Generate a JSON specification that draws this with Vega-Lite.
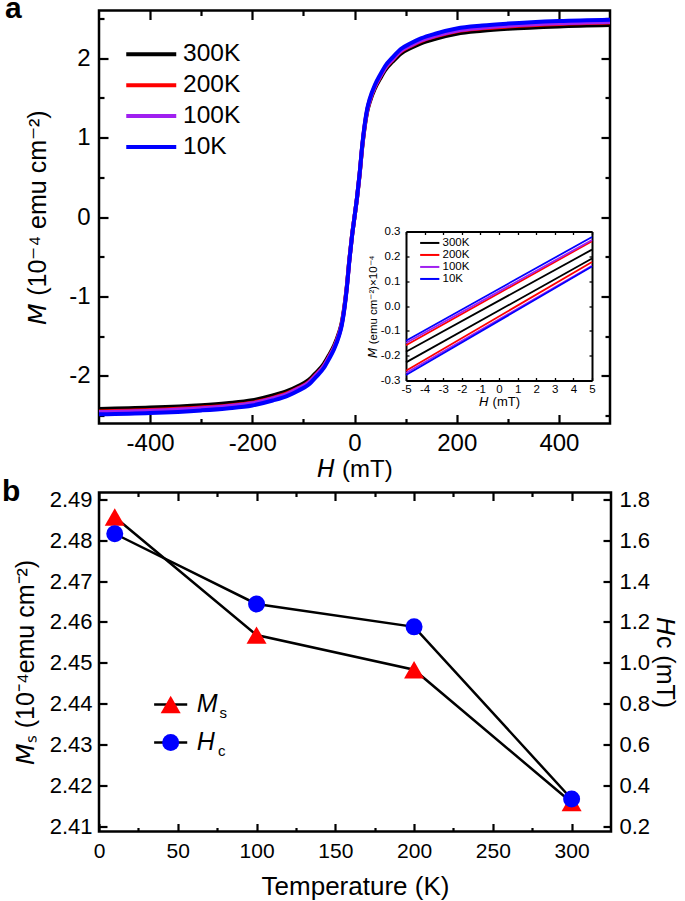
{
  "$schema": "https://vega.github.io/schema/vega-lite/v6.json",
  "padding": {"left": 0, "top": -7.5, "right": 6, "bottom": 0},
  "spacing": -8,
  "config": {
    "font": "Liberation Sans",
    "view": {"stroke": "#000000", "strokeWidth": 2.5},
    "axis": {"grid": false, "domain": false, "labelColor": "#000000", "titleColor": "#000000", "tickColor": "#000000", "labelFont": "Liberation Sans", "titleFont": "Liberation Sans", "titleFontWeight": "normal", "labelFlush": false, "labelOverlap": false, "labelBound": false, "tickWidth": 2.2, "labelFontSize": 22, "titleFontSize": 23},
    "legend": {"labelFont": "Liberation Sans", "labelColor": "#000000"},
    "title": {"color": "#000000"},
    "text": {"font": "Liberation Sans", "color": "#000000"}
  },
  "datasets": {
    "loop": [
      {"T":"300K","H":-500,"M":-2.417},{"T":"300K","H":-400,"M":-2.400},{"T":"300K","H":-300,"M":-2.369},{"T":"300K","H":-250,"M":-2.344},{"T":"300K","H":-200,"M":-2.308},{"T":"300K","H":-160,"M":-2.248},{"T":"300K","H":-130,"M":-2.187},{"T":"300K","H":-110,"M":-2.127},{"T":"300K","H":-90,"M":-2.054},{"T":"300K","H":-75,"M":-1.958},{"T":"300K","H":-60,"M":-1.849},{"T":"300K","H":-50,"M":-1.740},{"T":"300K","H":-40,"M":-1.619},{"T":"300K","H":-30,"M":-1.450},{"T":"300K","H":-25,"M":-1.329},{"T":"300K","H":-20,"M":-1.136},{"T":"300K","H":-15,"M":-0.870},{"T":"300K","H":-10,"M":-0.532},{"T":"300K","H":-5,"M":-0.242},{"T":"300K","H":0,"M":0},{"T":"300K","H":5,"M":0.242},{"T":"300K","H":10,"M":0.532},{"T":"300K","H":15,"M":0.870},{"T":"300K","H":20,"M":1.136},{"T":"300K","H":25,"M":1.329},{"T":"300K","H":30,"M":1.450},{"T":"300K","H":40,"M":1.619},{"T":"300K","H":50,"M":1.740},{"T":"300K","H":60,"M":1.849},{"T":"300K","H":75,"M":1.958},{"T":"300K","H":90,"M":2.054},{"T":"300K","H":110,"M":2.127},{"T":"300K","H":130,"M":2.187},{"T":"300K","H":160,"M":2.248},{"T":"300K","H":200,"M":2.308},{"T":"300K","H":250,"M":2.344},{"T":"300K","H":300,"M":2.369},{"T":"300K","H":400,"M":2.400},{"T":"300K","H":500,"M":2.417},
      {"T":"200K","H":-500,"M":-2.448},{"T":"200K","H":-400,"M":-2.431},{"T":"200K","H":-300,"M":-2.399},{"T":"200K","H":-250,"M":-2.375},{"T":"200K","H":-200,"M":-2.338},{"T":"200K","H":-160,"M":-2.277},{"T":"200K","H":-130,"M":-2.215},{"T":"200K","H":-110,"M":-2.154},{"T":"200K","H":-90,"M":-2.081},{"T":"200K","H":-75,"M":-1.983},{"T":"200K","H":-60,"M":-1.873},{"T":"200K","H":-50,"M":-1.763},{"T":"200K","H":-40,"M":-1.640},{"T":"200K","H":-30,"M":-1.469},{"T":"200K","H":-25,"M":-1.346},{"T":"200K","H":-20,"M":-1.151},{"T":"200K","H":-15,"M":-0.881},{"T":"200K","H":-10,"M":-0.539},{"T":"200K","H":-5,"M":-0.245},{"T":"200K","H":0,"M":0},{"T":"200K","H":5,"M":0.245},{"T":"200K","H":10,"M":0.539},{"T":"200K","H":15,"M":0.881},{"T":"200K","H":20,"M":1.151},{"T":"200K","H":25,"M":1.346},{"T":"200K","H":30,"M":1.469},{"T":"200K","H":40,"M":1.640},{"T":"200K","H":50,"M":1.763},{"T":"200K","H":60,"M":1.873},{"T":"200K","H":75,"M":1.983},{"T":"200K","H":90,"M":2.081},{"T":"200K","H":110,"M":2.154},{"T":"200K","H":130,"M":2.215},{"T":"200K","H":160,"M":2.277},{"T":"200K","H":200,"M":2.338},{"T":"200K","H":250,"M":2.375},{"T":"200K","H":300,"M":2.399},{"T":"200K","H":400,"M":2.431},{"T":"200K","H":500,"M":2.448},
      {"T":"100K","H":-500,"M":-2.456},{"T":"100K","H":-400,"M":-2.439},{"T":"100K","H":-300,"M":-2.407},{"T":"100K","H":-250,"M":-2.382},{"T":"100K","H":-200,"M":-2.345},{"T":"100K","H":-160,"M":-2.284},{"T":"100K","H":-130,"M":-2.223},{"T":"100K","H":-110,"M":-2.161},{"T":"100K","H":-90,"M":-2.088},{"T":"100K","H":-75,"M":-1.989},{"T":"100K","H":-60,"M":-1.879},{"T":"100K","H":-50,"M":-1.768},{"T":"100K","H":-40,"M":-1.646},{"T":"100K","H":-30,"M":-1.474},{"T":"100K","H":-25,"M":-1.351},{"T":"100K","H":-20,"M":-1.154},{"T":"100K","H":-15,"M":-0.884},{"T":"100K","H":-10,"M":-0.540},{"T":"100K","H":-5,"M":-0.246},{"T":"100K","H":0,"M":0},{"T":"100K","H":5,"M":0.246},{"T":"100K","H":10,"M":0.540},{"T":"100K","H":15,"M":0.884},{"T":"100K","H":20,"M":1.154},{"T":"100K","H":25,"M":1.351},{"T":"100K","H":30,"M":1.474},{"T":"100K","H":40,"M":1.646},{"T":"100K","H":50,"M":1.768},{"T":"100K","H":60,"M":1.879},{"T":"100K","H":75,"M":1.989},{"T":"100K","H":90,"M":2.088},{"T":"100K","H":110,"M":2.161},{"T":"100K","H":130,"M":2.223},{"T":"100K","H":160,"M":2.284},{"T":"100K","H":200,"M":2.345},{"T":"100K","H":250,"M":2.382},{"T":"100K","H":300,"M":2.407},{"T":"100K","H":400,"M":2.439},{"T":"100K","H":500,"M":2.456},
      {"T":"10K","H":-500,"M":-2.485},{"T":"10K","H":-400,"M":-2.468},{"T":"10K","H":-300,"M":-2.435},{"T":"10K","H":-250,"M":-2.410},{"T":"10K","H":-200,"M":-2.373},{"T":"10K","H":-160,"M":-2.311},{"T":"10K","H":-130,"M":-2.249},{"T":"10K","H":-110,"M":-2.187},{"T":"10K","H":-90,"M":-2.112},{"T":"10K","H":-75,"M":-2.013},{"T":"10K","H":-60,"M":-1.901},{"T":"10K","H":-50,"M":-1.789},{"T":"10K","H":-40,"M":-1.665},{"T":"10K","H":-30,"M":-1.491},{"T":"10K","H":-25,"M":-1.367},{"T":"10K","H":-20,"M":-1.168},{"T":"10K","H":-15,"M":-0.895},{"T":"10K","H":-10,"M":-0.547},{"T":"10K","H":-5,"M":-0.249},{"T":"10K","H":0,"M":0},{"T":"10K","H":5,"M":0.249},{"T":"10K","H":10,"M":0.547},{"T":"10K","H":15,"M":0.895},{"T":"10K","H":20,"M":1.168},{"T":"10K","H":25,"M":1.367},{"T":"10K","H":30,"M":1.491},{"T":"10K","H":40,"M":1.665},{"T":"10K","H":50,"M":1.789},{"T":"10K","H":60,"M":1.901},{"T":"10K","H":75,"M":2.013},{"T":"10K","H":90,"M":2.112},{"T":"10K","H":110,"M":2.187},{"T":"10K","H":130,"M":2.249},{"T":"10K","H":160,"M":2.311},{"T":"10K","H":200,"M":2.373},{"T":"10K","H":250,"M":2.410},{"T":"10K","H":300,"M":2.435},{"T":"10K","H":400,"M":2.468},{"T":"10K","H":500,"M":2.485}
    ],
    "inset": [
      {"T":"300K","br":"up","H":-5,"M":-0.184},{"T":"300K","br":"up","H":5,"M":0.227},
      {"T":"300K","br":"lo","H":-5,"M":-0.227},{"T":"300K","br":"lo","H":5,"M":0.191},
      {"T":"200K","br":"up","H":-5,"M":-0.158},{"T":"200K","br":"up","H":5,"M":0.261},
      {"T":"200K","br":"lo","H":-5,"M":-0.261},{"T":"200K","br":"lo","H":5,"M":0.177},
      {"T":"100K","br":"up","H":-5,"M":-0.149},{"T":"100K","br":"up","H":5,"M":0.266},
      {"T":"100K","br":"lo","H":-5,"M":-0.270},{"T":"100K","br":"lo","H":5,"M":0.162},
      {"T":"10K","br":"up","H":-5,"M":-0.140},{"T":"10K","br":"up","H":5,"M":0.278},
      {"T":"10K","br":"lo","H":-5,"M":-0.278},{"T":"10K","br":"lo","H":5,"M":0.159}
    ],
    "temp": [
      {"T":10,"Ms":2.4857,"Hc":1.632},
      {"T":100,"Ms":2.4568,"Hc":1.288},
      {"T":200,"Ms":2.4483,"Hc":1.176},
      {"T":300,"Ms":2.4158,"Hc":0.333}
    ]
  },
  "vconcat": [
    {
      "width": 511,
      "height": 413,
      "title": {"text": "a", "orient": "top", "anchor": "start", "frame": "group", "font": "Liberation Sans", "fontSize": 30, "fontWeight": "bold", "baseline": "alphabetic", "offset": 0, "dx": -94, "dy": 41.5},
      "layer": [
        {
          "data": {"name": "loop"},
          "layer": [
            {
              "mark": {"type": "line", "strokeWidth": 4, "interpolate": "monotone"},
              "encoding": {
                "x": {"field": "H", "type": "quantitative", "scale": {"domain": [-500, 500], "nice": false, "zero": false},
                  "axis": {"orient": "bottom", "values": [-400,-300,-200,-100,0,100,200,300,400], "labelExpr": "datum.value % 200 === 0 ? '' + datum.value : ''", "tickSize": {"condition": {"test": "datum.value % 200 === 0", "value": -9}, "value": -5}, "labelFontSize": 24, "labelPadding": 16.5, "title": "\uD835\uDE0F (mT)", "titleFontSize": 24, "titlePadding": -1.5}},
                "y": {"field": "M", "type": "quantitative", "scale": {"domain": [-2.6, 2.6], "nice": false, "zero": false},
                  "axis": {"orient": "left", "values": [-2.5,-2,-1.5,-1,-0.5,0,0.5,1,1.5,2,2.5], "labelExpr": "datum.value % 1 === 0 ? '' + datum.value : ''", "tickSize": {"condition": {"test": "datum.value % 1 === 0", "value": -9}, "value": -5}, "labelFontSize": 24, "labelPadding": 18, "title": "\uD835\uDE14 (10\u207B\u2074 emu cm\u207B\u00B2)", "titleFontSize": 25, "titlePadding": 18}},
                "color": {"field": "T", "type": "nominal", "scale": {"domain": ["300K","200K","100K","10K"], "range": ["#000000","#FF0000","#A020F0","#0000FF"]},
                  "legend": {"orient": "none", "legendX": 40, "legendY": 31.5, "title": null, "symbolType": "M -2.5 0 H 2.5", "symbolSize": 400, "symbolStrokeWidth": 4, "labelFontSize": 24.5, "rowPadding": 5.9, "labelOffset": 19.5, "padding": 0}}
              }
            },
            {
              "mark": {"type": "line", "opacity": 0},
              "encoding": {
                "x": {"field": "H", "type": "quantitative", "axis": {"orient": "top", "values": [-400,-300,-200,-100,0,100,200,300,400], "labels": false, "tickSize": {"condition": {"test": "datum.value % 200 === 0", "value": -9}, "value": -5}, "title": null}},
                "y": {"field": "M", "type": "quantitative", "axis": {"orient": "right", "values": [-2.5,-2,-1.5,-1,-0.5,0,0.5,1,1.5,2,2.5], "labels": false, "tickSize": {"condition": {"test": "datum.value % 1 === 0", "value": -9}, "value": -5}, "title": null}},
                "detail": {"field": "T"}
              }
            }
          ],
          "resolve": {"axis": {"x": "independent", "y": "independent"}}
        },
        {
          "data": {"name": "inset"},
          "layer": [
            {
              "mark": {"type": "line", "strokeWidth": 1.8},
              "encoding": {
                "x": {"field": "H", "type": "quantitative", "scale": {"domain": [-5, 5], "range": [307, 493], "nice": false, "zero": false},
                  "axis": {"orient": "bottom", "offset": -43, "values": [-5,-4,-3,-2,-1,0,1,2,3,4,5], "labelExpr": "'' + datum.value", "domain": true, "domainColor": "#000000", "domainWidth": 2, "tickSize": -3, "tickWidth": 1.3, "labelFontSize": 11.5, "labelPadding": 6, "title": "\uD835\uDE0F (mT)", "titleFontSize": 13, "titlePadding": 0}},
                "y": {"field": "M", "type": "quantitative", "scale": {"domain": [-0.3, 0.3], "range": [370, 221], "nice": false, "zero": false},
                  "axis": {"orient": "left", "offset": -307, "values": [-0.3,-0.2,-0.1,0,0.1,0.2,0.3], "labelExpr": "replace(format(datum.value, '.1f'), '\u2212', '-')", "domain": true, "domainColor": "#000000", "domainWidth": 2, "tickSize": -3, "tickWidth": 1.3, "labelFontSize": 11.5, "labelPadding": 9, "title": "\uD835\uDE14 (emu cm\u207B\u00B2)\u00D710\u207B\u2074", "titleFontSize": 11.5, "titlePadding": 2}},
                "color": {"field": "T", "type": "nominal", "scale": {"domain": ["300K","200K","100K","10K"], "range": ["#000000","#FF0000","#A020F0","#0000FF"]},
                  "legend": {"orient": "none", "legendX": 325, "legendY": 226.7, "title": null, "symbolType": "M -2.4 0 H 2.4", "symbolSize": 64, "symbolStrokeWidth": 2, "labelFontSize": 11.5, "rowPadding": -1, "labelOffset": 7, "padding": 0}},
                "detail": {"field": "br"}
              }
            },
            {
              "mark": {"type": "line", "opacity": 0},
              "encoding": {
                "x": {"field": "H", "type": "quantitative", "axis": {"orient": "top", "offset": -221, "values": [-5,-4,-3,-2,-1,0,1,2,3,4,5], "labels": false, "domain": true, "domainColor": "#000000", "domainWidth": 2, "tickSize": -3, "tickWidth": 1.3, "title": null}},
                "y": {"field": "M", "type": "quantitative", "axis": {"orient": "right", "offset": -18, "values": [-0.3,-0.2,-0.1,0,0.1,0.2,0.3], "labels": false, "domain": true, "domainColor": "#000000", "domainWidth": 2, "tickSize": -3, "tickWidth": 1.3, "title": null}},
                "detail": {"field": "br"}
              }
            }
          ],
          "resolve": {"axis": {"x": "independent", "y": "independent"}}
        }
      ],
      "resolve": {"scale": {"x": "independent", "y": "independent", "color": "independent"}}
    },
    {
      "width": 512,
      "height": 339,
      "title": {"text": "b", "orient": "top", "anchor": "start", "frame": "group", "font": "Liberation Sans", "fontSize": 30, "fontWeight": "bold", "baseline": "alphabetic", "offset": 0, "dx": -97, "dy": 43},
      "data": {"name": "temp"},
      "layer": [
        {
          "layer": [
            {
              "mark": {"type": "line", "color": "#000000", "strokeWidth": 2.5},
              "encoding": {
                "x": {"field": "T", "type": "quantitative", "scale": {"domain": [0, 325], "nice": false, "zero": false},
                  "axis": {"orient": "bottom", "values": [0,25,50,75,100,125,150,175,200,225,250,275,300], "labelExpr": "datum.value % 50 === 0 ? '' + datum.value : ''", "tickSize": {"condition": {"test": "datum.value % 50 === 0", "value": -8}, "value": -4}, "labelFontSize": 21, "labelPadding": 17, "title": "Temperature (K)", "titleFontSize": 26, "titlePadding": 8}},
                "y": {"field": "Ms", "type": "quantitative", "scale": {"domain": [2.4087, 2.4917], "nice": false, "zero": false},
                  "axis": {"orient": "left", "values": [2.41,2.415,2.42,2.425,2.43,2.435,2.44,2.445,2.45,2.455,2.46,2.465,2.47,2.475,2.48,2.485,2.49], "labelExpr": "round(datum.value * 1000) % 10 === 0 ? format(datum.value, '.2f') : ''", "tickSize": {"condition": {"test": "round(datum.value * 1000) % 10 === 0", "value": -8}, "value": -4}, "labelFontSize": 22, "labelPadding": 15, "title": "\uD835\uDE14\u209B (10\u207B\u2074emu cm\u207B\u00B2)", "titleFontSize": 25, "titlePadding": 11}}
              }
            },
            {
              "mark": {"type": "point", "shape": "triangle-up", "filled": true, "color": "#FF0000", "size": 400, "opacity": 1},
              "encoding": {
                "x": {"field": "T", "type": "quantitative", "axis": {"orient": "top", "values": [0,25,50,75,100,125,150,175,200,225,250,275,300], "labels": false, "tickSize": {"condition": {"test": "datum.value % 50 === 0", "value": -8}, "value": -4}, "title": null}},
                "y": {"field": "Ms", "type": "quantitative"}
              }
            }
          ],
          "resolve": {"axis": {"x": "independent"}}
        },
        {
          "layer": [
            {
              "mark": {"type": "line", "color": "#000000", "strokeWidth": 2.5},
              "encoding": {
                "x": {"field": "T", "type": "quantitative", "axis": null},
                "y": {"field": "Hc", "type": "quantitative", "scale": {"domain": [0.174, 1.834], "nice": false, "zero": false},
                  "axis": {"orient": "right", "values": [0.2,0.3,0.4,0.5,0.6,0.7,0.8,0.9,1.0,1.1,1.2,1.3,1.4,1.5,1.6,1.7,1.8], "labelExpr": "round(datum.value * 10) % 2 === 0 ? format(datum.value, '.1f') : ''", "tickSize": {"condition": {"test": "round(datum.value * 10) % 2 === 0", "value": -8}, "value": -4}, "labelFontSize": 22, "labelPadding": 16, "title": "\uD835\uDE0Fc (mT)", "titleFontSize": 25, "titlePadding": 2}}
              }
            },
            {
              "mark": {"type": "point", "shape": "circle", "filled": true, "color": "#0000FF", "size": 289, "opacity": 1},
              "encoding": {
                "x": {"field": "T", "type": "quantitative", "axis": null},
                "y": {"field": "Hc", "type": "quantitative"}
              }
            }
          ]
        },
        {
          "data": {"values": [{}]},
          "layer": [
            {
              "mark": {"type": "rule", "color": "#000000", "strokeWidth": 2.5},
              "encoding": {"x": {"datum": 35, "type": "quantitative", "axis": null}, "x2": {"datum": 56}, "y": {"datum": 2.4398, "type": "quantitative", "scale": {"domain": [2.4087, 2.4917], "nice": false, "zero": false}, "axis": null}}
            },
            {
              "mark": {"type": "rule", "color": "#000000", "strokeWidth": 2.5},
              "encoding": {"x": {"datum": 35, "type": "quantitative", "axis": null}, "x2": {"datum": 56}, "y": {"datum": 2.4305, "type": "quantitative", "axis": null}}
            },
            {
              "mark": {"type": "point", "shape": "triangle-up", "filled": true, "color": "#FF0000", "size": 400, "opacity": 1},
              "encoding": {"x": {"datum": 45.5, "type": "quantitative", "axis": null}, "y": {"datum": 2.4398, "type": "quantitative", "axis": null}}
            },
            {
              "mark": {"type": "point", "shape": "circle", "filled": true, "color": "#0000FF", "size": 289, "opacity": 1},
              "encoding": {"x": {"datum": 45.5, "type": "quantitative", "axis": null}, "y": {"datum": 2.4305, "type": "quantitative", "axis": null}}
            },
            {
              "mark": {"type": "text", "text": "M", "fontStyle": "italic", "fontSize": 25, "align": "left", "baseline": "middle"},
              "encoding": {"x": {"datum": 62, "type": "quantitative", "axis": null}, "y": {"datum": 2.4398, "type": "quantitative", "axis": null}}
            },
            {
              "mark": {"type": "text", "text": "s", "fontSize": 15, "align": "left", "baseline": "middle", "dy": 9},
              "encoding": {"x": {"datum": 76.5, "type": "quantitative", "axis": null}, "y": {"datum": 2.4398, "type": "quantitative", "axis": null}}
            },
            {
              "mark": {"type": "text", "text": "H", "fontStyle": "italic", "fontSize": 25, "align": "left", "baseline": "middle"},
              "encoding": {"x": {"datum": 62, "type": "quantitative", "axis": null}, "y": {"datum": 2.4305, "type": "quantitative", "axis": null}}
            },
            {
              "mark": {"type": "text", "text": "c", "fontSize": 15, "align": "left", "baseline": "middle", "dy": 9},
              "encoding": {"x": {"datum": 75.5, "type": "quantitative", "axis": null}, "y": {"datum": 2.4305, "type": "quantitative", "axis": null}}
            }
          ]
        }
      ],
      "resolve": {"scale": {"y": "independent"}, "axis": {"x": "independent"}}
    }
  ]
}
